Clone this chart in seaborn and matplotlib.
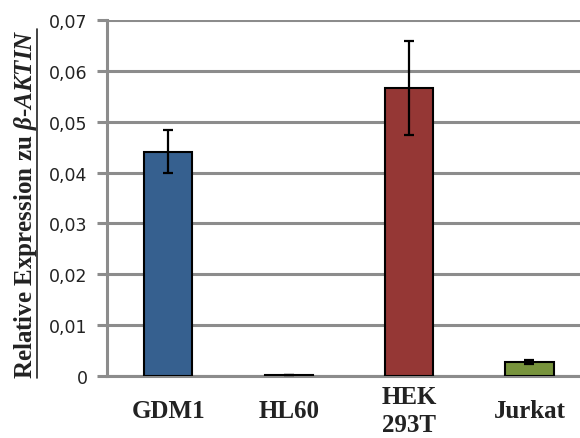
import matplotlib
matplotlib.use("Agg")
import matplotlib.pyplot as plt
from matplotlib.lines import Line2D
import seaborn as sns
import pandas as pd

# Expression values relative to beta-actin, with standard deviations
cell_lines = ["GDM1", "HL60", "HEK\n293T", "Jurkat"]
expression = [0.0441, 0.0001, 0.0566, 0.0028]
std_dev = [0.0042, 0.0, 0.0093, 0.0004]
bar_colors = ["#36608F", "#000000", "#953735", "#77933C"]
y_ticks = [0.0, 0.01, 0.02, 0.03, 0.04, 0.05, 0.06, 0.07]
y_tick_labels = ["0", "0,01", "0,02", "0,03", "0,04", "0,05", "0,06", "0,07"]

sns.set_theme(style="white")
plt.rcParams["mathtext.fontset"] = "custom"
plt.rcParams["mathtext.rm"] = "Liberation Serif:bold"
plt.rcParams["mathtext.it"] = "Liberation Serif:italic:bold"
plt.rcParams["mathtext.bf"] = "Liberation Serif:bold"

df = pd.DataFrame({"line": cell_lines, "value": expression})

fig = plt.figure(figsize=(5.8, 4.39), dpi=100)
ax = fig.add_axes([107 / 580, 1 - 377 / 439, 1 - 107 / 580, (377 - 21) / 439])

sns.barplot(data=df, x="line", y="value", hue="line", palette=bar_colors,
            saturation=1, width=0.4, edgecolor="black", linewidth=1.5,
            errorbar=None, legend=False, ax=ax, zorder=3)
ax.errorbar(range(len(cell_lines)), expression, yerr=std_dev, fmt="none",
            ecolor="black", elinewidth=1.6, capsize=3.3, capthick=1.6, zorder=4)

ax.set_ylim(0, 0.07)
ax.set_xlim(-0.51, 3.42)
ax.set_yticks(y_ticks)
ax.set_yticklabels(y_tick_labels, fontsize=12.5, family="DejaVu Sans", color="#222222")
ax.set_xticks(range(len(cell_lines)))
ax.set_xticklabels(cell_lines, fontsize=18, family="Liberation Serif",
                   fontweight="bold", color="#222222", linespacing=1.3)
for lab in ax.get_xticklabels():
    lab.set_va("center")
ax.set_xlabel("")

grid_col = "#8c8c8c"
ax.yaxis.grid(True, color=grid_col, linewidth=2.2, zorder=0)
ax.set_axisbelow(True)
for side in ["top", "right"]:
    ax.spines[side].set_visible(False)
ax.spines["left"].set_color(grid_col)
ax.spines["left"].set_linewidth(2.2)
ax.spines["bottom"].set_color(grid_col)
ax.spines["bottom"].set_linewidth(2.2)
ax.tick_params(axis="y", length=7, width=2.2, color=grid_col, pad=7, left=True)
ax.tick_params(axis="x", length=0, pad=25)

ax.set_ylabel(r"Relative Expression zu $\mathit{\beta}$-$\mathit{AKTIN}$",
              fontsize=18, family="Liberation Serif", fontweight="bold",
              color="#222222")
ax.yaxis.set_label_coords((39 - 107) / 473, (377 - 204.5) / 356)

# underline the axis title
fig.canvas.draw()
renderer = fig.canvas.get_renderer()
bb = ax.yaxis.label.get_window_extent(renderer)
inv = fig.transFigure.inverted()
(x0, y0), (x1, y1) = inv.transform([(bb.x0, bb.y0), (bb.x1, bb.y1)])
ux = inv.transform([(bb.x1 - 2, 0)])[0][0]
fig.add_artist(Line2D([ux, ux], [y0, y1], transform=fig.transFigure,
                      color="#222222", linewidth=1.2))

fig.savefig("out.png", dpi=100)
